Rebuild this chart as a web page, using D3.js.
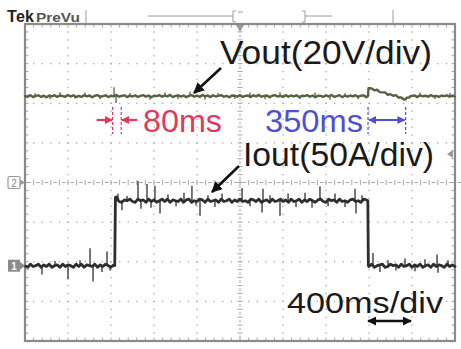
<!DOCTYPE html>
<html>
<head>
<meta charset="utf-8">
<title>Vout / Iout load step</title>
<script src="https://cdn.jsdelivr.net/npm/d3@7/dist/d3.min.js"></script>
<style>
  body { margin: 0; background: #fff; }
  svg { display: block; }
  text { font-family: "Liberation Sans", Arial, sans-serif; }
</style>
</head>
<body>
<script>

    var width = 461, height = 349;
    var gx0 = 25, gx1 = 455, gy0 = 24, gy1 = 341;   // graticule frame

    // time base: 400 ms/div, 10 divisions
    var timeSpan = [0, 4000];

    // Iout (ch1, 50 A/div) step levels
    var ioutKnotT = [0, 835, 841, 870, 3189, 3194, 4000];
    var ioutKnotA = [0, 0, 86, 82, 82, 0, 0];

    // Vout (ch2, 20 V/div) level with the unload transient
    var voutKnotT = [0, 3190, 3196, 3541, 3585, 4000];
    var voutKnotV = [43.6, 43.6, 47.6, 42.0, 43.6, 43.6];

    // ripple, one value per 25 ms
    var ioutRipple = [
       1,-2, 2,-1, 0, 2,-2, 1,-1, 2,
      -2, 0, 1,-2, 2,-1, 1, 0,-2, 2,
      -1, 2,-2, 1, 0,-1, 2,-2, 1,-1,
       2, 0,-2, 1, 2,-1,-2, 1, 0, 2,
      -1,-2, 2, 0, 1,-2, 2,-1, 1,-2,
       0, 2,-1, 2,-2, 1, 0,-1, 2,-2,
       1, 2,-2, 0,-1, 2, 1,-2, 2,-1,
       0, 1,-2, 2,-1, 0, 2,-2, 1,-1,
       2,-1, 0,-2, 2, 1,-1, 2,-2, 0,
       1,-2, 2,-1, 0, 2,-1, 1,-2, 2,
      -1, 0, 2,-2, 1,-1, 2, 0,-2, 1,
       2,-1,-2, 2, 0, 1,-2, 2,-1, 0,
      -2, 1, 2,-1, 0,-2, 2, 1,-1, 2,
      -2, 0, 1, 2,-2,-1, 2, 0, 1,-2,
       2,-1, 0, 2,-2, 1,-1, 2,-2, 0,
       1,-2, 2,-1, 1, 0,-2, 2,-1, 1,
      -1];
    var voutRipple = [
       0.4,-0.3, 0.5,-0.5, 0.1, 0.4,-0.4, 0.2,-0.6, 0.3,
      -0.1, 0.5,-0.4, 0.3, 0.0,-0.3, 0.6,-0.2, 0.4,-0.5,
       0.1,-0.4, 0.5,-0.1, 0.3,-0.6, 0.2, 0.5,-0.3, 0.0,
       0.4,-0.5, 0.2,-0.1, 0.6,-0.3, 0.1, 0.4,-0.5, 0.3,
      -0.2, 0.4,-0.4, 0.1, 0.5,-0.3, 0.3,-0.6, 0.2, 0.0,
       0.5,-0.3, 0.3,-0.1, 0.6,-0.5, 0.1, 0.4,-0.2, 0.3,
      -0.5, 0.1, 0.5,-0.3, 0.2,-0.4, 0.6,-0.1, 0.3,-0.5,
       0.4,-0.2, 0.1, 0.5,-0.3, 0.1,-0.6, 0.3, 0.2,-0.3,
       0.5,-0.4, 0.1, 0.3,-0.5, 0.4,-0.1, 0.6,-0.3, 0.1,
       0.3,-0.5, 0.2, 0.5,-0.2, 0.1,-0.4, 0.5,-0.3, 0.3,
      -0.1, 0.4,-0.5, 0.2, 0.0, 0.5,-0.3, 0.3,-0.6, 0.2,
       0.1,-0.4, 0.4,-0.2, 0.6,-0.3, 0.0, 0.5,-0.5, 0.2,
      -0.3, 0.3,-0.1, 0.5,-0.4, 0.2, 0.4,-0.6, 0.1, 0.3,
      -0.2, 0.5,-0.3, 0.0, 0.4,-0.5, 0.3,-0.1, 0.6,-0.2,
       0.2,-0.4, 0.5,-0.3, 0.1, 0.3,-0.5, 0.4,-0.1, 0.2,
      -0.3, 0.5,-0.2, 0.1,-0.4, 0.3, 0.0, 0.4,-0.3, 0.2,
      -0.1];

    // noise spikes: time (ms) and excursion from the level
    var ioutSpikeT = [158, 279, 400, 512, 605, 633, 716, 763, 791,
                      865, 902, 949, 1051, 1079, 1135, 1172, 1209, 1256, 1330, 1405, 1479, 1553, 1591, 1628,
                      1702, 1767, 1833, 2019, 2093, 2205, 2214, 2279, 2372, 2447, 2521, 2605, 2670, 2744,
                      2819, 2884, 2977, 3070, 3079, 3135,
                      3237, 3302, 3377, 3451, 3535, 3628, 3721, 3833, 3842, 3935];
    var ioutSpikeA = [-11, 6, -17, 7, 22, -20, -8, 18, -6,
                      8, -12, 6, 25, -10, 21, -9, 19, -16, 8, -7, 10, 19, -6, -19,
                      7, -8, 9, 16, -7, -15, 15, 7, -19, 9, -8, 10, -9, 18,
                      -7, 9, -8, 15, -16, 7,
                      16, -8, 7, -6, 9, -7, 8, 14, -9, 7];
    var voutSpikeT = [93, 233, 326, 465, 558, 698, 828, 847, 977, 1163, 1302, 1423, 1535, 1674,
                      1795, 1953, 2093, 2233, 2372, 2558, 2698, 2837, 2977, 3098, 3674, 3814, 3953];
    var voutSpikeV = [1.5, -1.5, 2, -1.2, 1.8, -1.5, 4.5, -3.5, 1.5, -1.8, 2, -1.5, 2.2, -1.8,
                      1.6, -1.4, 1.8, -1.6, 2, -1.5, 1.8, -1.8, 1.5, -1.6, 1.8, -1.5, 1.6];

    // cursor annotations (ms)
    var cursor80 = [815, 895];
    var cursor350 = [3191, 3541];
    var divMarker = [3191, 3591];

    var svg = d3.select("body").append("svg")
        .attr("width", width)
        .attr("height", height);

    var x = d3.scaleLinear().domain(timeSpan).range([gx0, gx1]);
    var yDiv = d3.scaleLinear().domain([-4, 4]).range([gy1, gy0]);
    var yVout = d3.scaleLinear().domain([-4 * 20, 4 * 20]).range([gy1, gy0]);          // ch2 ground at centre
    var yIout = d3.scaleLinear().domain([(-4 + 2.1) * 50, (4 + 2.1) * 50]).range([gy1, gy0]); // ch1 ground -2.1 div

    var gridCol = "#a6a6a6";

    // graticule dots
    var g = svg.append("g");
    var minorT = d3.range(0, 4000.1, 80);
    var minorD = d3.range(-4, 4.01, 0.2);
    d3.range(-3, 4).forEach(function(k) {
      if (k == 0) return;
      g.selectAll(null).data(minorT).enter().append("rect")
        .attr("x", function(d) { return x(d) - 0.6; })
        .attr("y", yDiv(k) - 0.6)
        .attr("width", 1.3).attr("height", 1.3)
        .attr("fill", gridCol);
    });
    d3.range(400, 4000, 400).forEach(function(t) {
      if (t == 2000) return;
      g.selectAll(null).data(minorD).enter().append("rect")
        .attr("x", x(t) - 0.6)
        .attr("y", function(d) { return yDiv(d) - 0.6; })
        .attr("width", 1.3).attr("height", 1.3)
        .attr("fill", gridCol);
    });

    // centre cross with minor ticks
    g.selectAll(null).data(minorT).enter().append("line")
      .attr("x1", function(d) { return x(d); }).attr("x2", function(d) { return x(d); })
      .attr("y1", yDiv(0) - 2.5).attr("y2", yDiv(0) + 2.5)
      .attr("stroke", gridCol).attr("stroke-width", 1);
    g.selectAll(null).data(minorT).enter().append("rect")
      .attr("x", function(d) { return x(d) + 2.5; })
      .attr("y", yDiv(0) - 0.5).attr("width", 3.6).attr("height", 1)
      .attr("fill", gridCol);
    g.selectAll(null).data(minorD).enter().append("line")
      .attr("y1", function(d) { return yDiv(d); }).attr("y2", function(d) { return yDiv(d); })
      .attr("x1", x(2000) - 2.5).attr("x2", x(2000) + 2.5)
      .attr("stroke", gridCol).attr("stroke-width", 1);
    g.selectAll(null).data(minorD.slice(0, -1)).enter().append("rect")
      .attr("y", function(d) { return yDiv(d) - 5.5; })
      .attr("x", x(2000) - 0.5).attr("width", 1).attr("height", 3)
      .attr("fill", gridCol);

    // border ticks
    g.selectAll(null).data(minorT).enter().append("line")
      .attr("x1", function(d) { return x(d); }).attr("x2", function(d) { return x(d); })
      .attr("y1", gy0).attr("y2", gy0 + 3.5)
      .attr("stroke", gridCol).attr("stroke-width", 1);
    g.selectAll(null).data(minorT).enter().append("line")
      .attr("x1", function(d) { return x(d); }).attr("x2", function(d) { return x(d); })
      .attr("y1", gy1).attr("y2", gy1 - 3.5)
      .attr("stroke", gridCol).attr("stroke-width", 1);
    g.selectAll(null).data(minorD).enter().append("line")
      .attr("y1", function(d) { return yDiv(d); }).attr("y2", function(d) { return yDiv(d); })
      .attr("x1", gx0).attr("x2", gx0 + 3.5)
      .attr("stroke", gridCol).attr("stroke-width", 1);
    g.selectAll(null).data(minorD).enter().append("line")
      .attr("y1", function(d) { return yDiv(d); }).attr("y2", function(d) { return yDiv(d); })
      .attr("x1", gx1).attr("x2", gx1 - 3.5)
      .attr("stroke", gridCol).attr("stroke-width", 1);

    // frame
    svg.append("rect")
      .attr("x", gx0).attr("y", gy0)
      .attr("width", gx1 - gx0).attr("height", gy1 - gy0)
      .attr("fill", "none").attr("stroke", "#8a8a8a").attr("stroke-width", 2.2);

    // trace body from its level knots and ripple
    var buildTrace = function(level, ripple) {
      var step = (timeSpan[1] - timeSpan[0]) / (ripple.length - 1);
      var pts = [];
      ripple.forEach(function(r, i) { pts.push({t: i * step, v: level(i * step) + r}); });
      level.domain().forEach(function(t) { pts.push({t: t, v: level(t)}); });
      pts.sort(function(a, b) { return a.t - b.t; });
      return pts;
    }

    var drawTrace = function(knotT, knotV, ripple, spikeT, spikeV, yScale, col, w) {
      var level = d3.scaleLinear().domain(knotT).range(knotV).clamp(true);
      var pts = buildTrace(level, ripple);
      svg.append("path")
        .datum(pts)
        .attr("d", d3.line().x(function(d) { return x(d.t); }).y(function(d) { return yScale(d.v); }))
        .attr("fill", "none").attr("stroke", col).attr("stroke-width", w)
        .attr("stroke-linejoin", "round");
      // thin noise spikes
      svg.append("g").selectAll("line")
        .data(spikeT)
        .enter().append("line")
        .attr("x1", function(d) { return x(d); })
        .attr("x2", function(d) { return x(d); })
        .attr("y1", function(d) { return yScale(level(d)); })
        .attr("y2", function(d, i) { return yScale(level(d) + spikeV[i]); })
        .attr("stroke", col).attr("stroke-width", 1.3);
    }

    drawTrace(voutKnotT, voutKnotV, voutRipple, voutSpikeT, voutSpikeV, yVout, "#55613f", 2.4);
    drawTrace(ioutKnotT, ioutKnotA, ioutRipple, ioutSpikeT, ioutSpikeA, yIout, "#2e2e2e", 2.8);

    // header
    svg.append("text").attr("x", 7).attr("y", 22)
      .attr("font-size", 16).attr("font-weight", "bold").attr("fill", "#222")
      .attr("textLength", 27).text("Tek");
    svg.append("text").attr("x", 36).attr("y", 22)
      .attr("font-size", 13).attr("font-weight", "bold").attr("fill", "#555")
      .attr("textLength", 44).attr("lengthAdjust", "spacingAndGlyphs").text("PreVu");
    var hdr = svg.append("g").attr("stroke", "#9a9a9a").attr("stroke-width", 1).attr("fill", "none");
    hdr.append("line").attr("x1", 86).attr("x2", 86).attr("y1", 10).attr("y2", 23);
    hdr.append("line").attr("x1", 148).attr("x2", 233).attr("y1", 16).attr("y2", 16);
    hdr.append("line").attr("x1", 305).attr("x2", 332).attr("y1", 16).attr("y2", 16);
    hdr.append("path").attr("d", "M236,11 H233 V22 H236");
    hdr.append("path").attr("d", "M302,11 H305 V22 H302");
    hdr.append("line").attr("x1", 393).attr("x2", 393).attr("y1", 10).attr("y2", 23);
    hdr.append("line").attr("x1", 238).attr("x2", 243).attr("y1", 12).attr("y2", 12);
    svg.append("path").attr("d", "M236,25 L244,25 L240,32 Z").attr("fill", "#9a9a9a");

    // trigger level marker
    svg.append("path").attr("d", "M447,154 L453,150 L453,158 Z").attr("fill", "#9a9a9a");

    // channel markers
    svg.append("rect").attr("x", 8).attr("y", yDiv(0) - 6).attr("width", 12).attr("height", 12)
      .attr("rx", 1.5).attr("fill", "#fff").attr("stroke", "#999").attr("stroke-width", 1.2);
    svg.append("path").attr("d", "M20," + (yDiv(0) - 3) + " L25," + yDiv(0) + " L20," + (yDiv(0) + 3) + " Z")
      .attr("fill", "#999");
    svg.append("text").attr("x", 14).attr("y", yDiv(0) + 4).attr("text-anchor", "middle")
      .attr("font-size", 10).attr("fill", "#888").text("2");
    svg.append("rect").attr("x", 8).attr("y", yIout(0) - 6).attr("width", 12).attr("height", 12)
      .attr("fill", "#8c8c8c");
    svg.append("path").attr("d", "M20," + (yIout(0) - 4) + " L25," + yIout(0) + " L20," + (yIout(0) + 4) + " Z")
      .attr("fill", "#8c8c8c");
    svg.append("text").attr("x", 14).attr("y", yIout(0) + 4).attr("text-anchor", "middle")
      .attr("font-size", 10).attr("font-weight", "bold").attr("fill", "#fff").text("1");

    // arrowheads
    var defs = svg.append("defs");
    var addHead = function(id, col, size) {
      defs.append("marker").attr("id", id)
        .attr("viewBox", "0 -5 10 10").attr("refX", 9).attr("refY", 0)
        .attr("markerUnits", "userSpaceOnUse")
        .attr("markerWidth", size).attr("markerHeight", size)
        .attr("orient", "auto-start-reverse")
        .append("path").attr("d", "M0,-5 L10,0 L0,5 Z").attr("fill", col);
    }
    addHead("hk", "#111", 11);
    addHead("hr", "#e3385c", 8);
    addHead("hb", "#4f4fd4", 8);
    addHead("hk2", "#111", 9);

    // label text
    var label = function(s, x0, x1, base, size, col) {
      svg.append("text").attr("x", x0).attr("y", base)
        .attr("font-size", size).attr("fill", col)
        .attr("textLength", x1 - x0).attr("lengthAdjust", "spacingAndGlyphs")
        .text(s);
    }
    label("Vout(20V/div)", 220, 432, 64, 33, "#1a1a1a");
    label("Iout(50A/div)", 243, 434, 166, 33, "#1a1a1a");
    label("80ms", 143, 222, 132, 31, "#e3385c");
    label("350ms", 265, 363, 132, 31, "#4f4fd4");
    label("400ms/div", 287, 443, 313, 30, "#1a1a1a");

    // pointer arrows
    svg.append("line").attr("x1", 221).attr("y1", 68).attr("x2", 194).attr("y2", 93)
      .attr("stroke", "#111").attr("stroke-width", 2.6).attr("marker-end", "url(#hk)");
    svg.append("line").attr("x1", 239).attr("y1", 166).attr("x2", 212).attr("y2", 192)
      .attr("stroke", "#111").attr("stroke-width", 2.6).attr("marker-end", "url(#hk)");

    // 80 ms cursors
    var ay = 120;
    svg.selectAll(null).data(cursor80).enter().append("line")
      .attr("x1", function(d) { return x(d); }).attr("x2", function(d) { return x(d); })
      .attr("y1", 107).attr("y2", 134)
      .attr("stroke", "#e3385c").attr("stroke-width", 1.2).attr("stroke-dasharray", "3,2");
    svg.append("line").attr("x1", x(cursor80[0]) - 16).attr("x2", x(cursor80[0]) - 0.5)
      .attr("y1", ay).attr("y2", ay)
      .attr("stroke", "#e3385c").attr("stroke-width", 2.2).attr("marker-end", "url(#hr)");
    svg.append("line").attr("x1", x(cursor80[1]) + 16).attr("x2", x(cursor80[1]) + 0.5)
      .attr("y1", ay).attr("y2", ay)
      .attr("stroke", "#e3385c").attr("stroke-width", 2.2).attr("marker-end", "url(#hr)");

    // 350 ms cursors
    svg.selectAll(null).data(cursor350).enter().append("line")
      .attr("x1", function(d) { return x(d); }).attr("x2", function(d) { return x(d); })
      .attr("y1", 107).attr("y2", 134)
      .attr("stroke", "#4f4fd4").attr("stroke-width", 1.2).attr("stroke-dasharray", "3,2");
    svg.append("line").attr("x1", x(cursor350[0]) + 1).attr("x2", x(cursor350[1]) - 1)
      .attr("y1", ay).attr("y2", ay)
      .attr("stroke", "#4f4fd4").attr("stroke-width", 2.2)
      .attr("marker-start", "url(#hb)").attr("marker-end", "url(#hb)");

    // one division marker
    svg.append("line").attr("x1", x(divMarker[0])).attr("x2", x(divMarker[1]))
      .attr("y1", 321).attr("y2", 321)
      .attr("stroke", "#111").attr("stroke-width", 2.4)
      .attr("marker-start", "url(#hk2)").attr("marker-end", "url(#hk2)");

</script>
</body>
</html>
